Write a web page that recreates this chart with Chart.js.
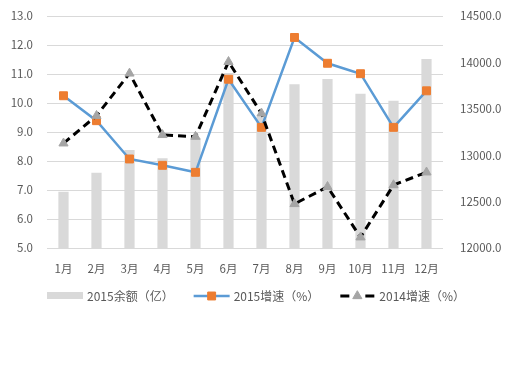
<!DOCTYPE html>
<html>
<head>
<meta charset="utf-8">
<script src="https://cdn.jsdelivr.net/npm/chart.js@4"></script>
<style>
  html, body { margin: 0; padding: 0; background: #ffffff; }
  #wrap { width: 512px; height: 384px; }
</style>
</head>
<body>
<div id="wrap"><canvas id="chart" width="512" height="384"></canvas></div>
<script>
// chart data
const months = ['1月', '2月', '3月', '4月', '5月', '6月', '7月', '8月', '9月', '10月', '11月', '12月'];
const balance2015 = [12607, 12811, 13056, 12967, 13186, 13886, 13412, 13764, 13821, 13663, 13588, 14037];
const growth2015 = [10.25, 9.39, 8.07, 7.85, 7.61, 10.82, 9.16, 12.26, 11.37, 11.01, 9.16, 10.42];
const growth2014 = [8.61, 9.56, 11.02, 8.9, 8.84, 11.42, 9.64, 6.52, 7.11, 5.37, 7.17, 7.61];

const FONT = '"Noto Sans CJK SC", "Noto Sans", sans-serif';
const TEXT = '#595959';
const GRID = '#d9d9d9';

/**
 * Legend drawn below the plot, Excel style (line + marker swatches)
 */
const excelLegend = {
  id: 'excelLegend',
  afterDraw(chart) {
    const ctx = chart.ctx;
    const y = chart.chartArea.bottom + 48;
    const sw = 36, gap = 4, spacing = 20;
    ctx.save();
    ctx.font = '12px ' + FONT;
    const items = chart.data.datasets.map(ds => ({ ds, w: sw + gap + ctx.measureText(ds.label).width }));
    let x = chart.chartArea.left;
    items.forEach(({ ds, w }) => {
      if (ds.type === 'bar') {
        ctx.fillStyle = ds.backgroundColor;
        ctx.fillRect(x, y - 4, sw, 7);
      } else {
        ctx.strokeStyle = ds.borderColor;
        ctx.lineWidth = ds.borderWidth;
        ctx.beginPath();
        if (ds.borderDash) {
          // two short dashes around the marker
          ctx.moveTo(x + 1, y); ctx.lineTo(x + 10, y);
          ctx.moveTo(x + sw - 10, y); ctx.lineTo(x + sw - 1, y);
        } else {
          ctx.moveTo(x, y); ctx.lineTo(x + sw, y);
        }
        ctx.stroke();
        ctx.fillStyle = ds.pointBackgroundColor;
        ctx.strokeStyle = ds.pointBorderColor;
        ctx.lineWidth = 1;
        Chart.helpers.drawPoint(ctx, {
          pointStyle: ds.pointStyle,
          radius: ds.pointRadius,
          borderWidth: 1
        }, x + sw / 2, y);
      }
      ctx.fillStyle = TEXT;
      ctx.textBaseline = 'middle';
      ctx.textAlign = 'left';
      ctx.fillText(ds.label, x + sw + gap, y);
      x += w + spacing;
    });
    ctx.restore();
  }
};

function renderChart() {
  const canvas = document.getElementById('chart');
  const ctx = canvas.getContext('2d');

  new Chart(ctx, {
    data: {
      labels: months,
      datasets: [
        {
          type: 'bar',
          label: '2015余额（亿）',
          data: balance2015,
          yAxisID: 'y1',
          backgroundColor: '#d9d9d9',
          barPercentage: 0.62,
          categoryPercentage: 0.5,
          order: 3
        },
        {
          type: 'line',
          label: '2015增速（%）',
          data: growth2015,
          yAxisID: 'y',
          borderColor: '#5b9bd5',
          borderWidth: 2.5,
          pointStyle: 'rect',
          pointRadius: 5.6,
          pointBackgroundColor: '#ed7d31',
          pointBorderColor: '#ed7d31',
          pointBorderWidth: 1,
          tension: 0,
          order: 2
        },
        {
          type: 'line',
          label: '2014增速（%）',
          data: growth2014,
          yAxisID: 'y',
          borderColor: '#000000',
          borderWidth: 3,
          borderDash: [8, 5],
          borderCapStyle: 'butt',
          pointStyle: 'triangle',
          pointRadius: 5.3,
          pointBackgroundColor: '#a5a5a5',
          pointBorderColor: '#a5a5a5',
          pointBorderWidth: 1,
          tension: 0,
          order: 1
        }
      ]
    },
    options: {
      responsive: false,
      animation: false,
      layout: { padding: { top: 16, left: 0, right: 0, bottom: 0 } },
      plugins: {
        legend: { display: false },
        tooltip: { enabled: false }
      },
      scales: {
        x: {
          grid: { display: false },
          border: { display: false },
          ticks: { color: TEXT, font: { family: FONT, size: 11.5 }, maxRotation: 0, padding: 6 },
          afterFit(scale) { scale.height = 136; }
        },
        y: {
          position: 'left',
          min: 5,
          max: 13,
          grid: { color: GRID, lineWidth: 1, drawTicks: false },
          border: { display: false },
          ticks: {
            stepSize: 1,
            color: TEXT,
            font: { family: FONT, size: 11.5 },
            padding: 14,
            callback: v => v.toFixed(1)
          },
          afterFit(scale) { scale.width = 47; scale.paddingTop = 0; }
        },
        y1: {
          position: 'right',
          min: 12000,
          max: 14500,
          grid: { display: false },
          border: { display: false },
          ticks: {
            stepSize: 500,
            color: TEXT,
            font: { family: FONT, size: 11.5 },
            padding: 9,
            callback: v => v.toFixed(1)
          },
          afterFit(scale) { scale.width = 69; scale.paddingTop = 0; }
        }
      }
    },
    plugins: [excelLegend]
  });
}

renderChart();
</script>
</body>
</html>
